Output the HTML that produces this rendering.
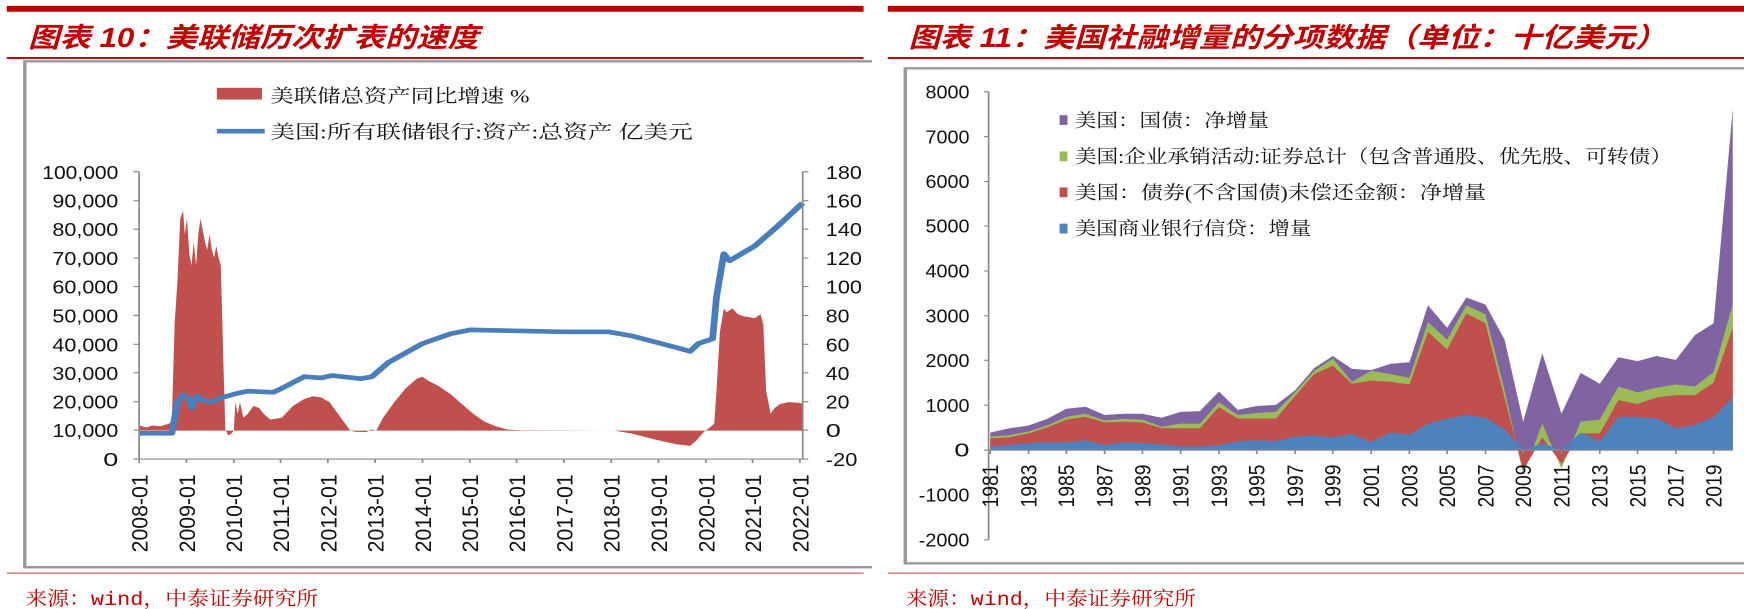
<!DOCTYPE html>
<html><head><meta charset="utf-8"><style>
html,body{margin:0;padding:0;background:#fff;width:1744px;height:609px;overflow:hidden}
svg{display:block}
text{font-family:"Liberation Sans","Noto Sans CJK SC",sans-serif}
.t{font-family:"Liberation Sans","Noto Sans CJK SC",sans-serif;font-weight:bold;font-style:italic;fill:#c00000;font-size:70px}
.src{font-family:"Liberation Mono","Noto Serif CJK SC",serif;fill:#c00000;font-size:50px}
.lg{font-family:"Liberation Serif","Noto Serif CJK SC",serif;font-size:48px;fill:#111}
.n{font-size:48px;fill:#111}
.xl{font-size:40px;fill:#111}
</style></head><body>
<svg width="1744" height="609" viewBox="0 0 3096 1560" preserveAspectRatio="none">
<rect width="3096" height="1560" fill="#fff"/>
<!-- LEFT PANEL -->
<rect x="12" y="15" width="1521" height="15" fill="#c00000"/>
<text class="t" x="50" y="120" textLength="800" lengthAdjust="spacingAndGlyphs">图表 10：美联储历次扩表的速度</text>
<rect x="12" y="146" width="1521" height="5" fill="#c00000"/>
<path d="M1548,157 H44 V1453 H1548" fill="none" stroke="#999" stroke-width="6"/>
<rect x="12" y="1467" width="1521" height="2" fill="#c00000"/>
<text class="src" x="45" y="1550" textLength="520" lengthAdjust="spacingAndGlyphs">来源：wind，中泰证券研究所</text>

<rect x="385" y="225" width="80" height="30" fill="#c0504d"/>
<text class="lg" x="480" y="262" textLength="460" lengthAdjust="spacingAndGlyphs">美联储总资产同比增速 %</text>
<line x1="385" y1="336" x2="470" y2="336" stroke="#4a7ebb" stroke-width="12"/>
<text class="lg" x="480" y="355" textLength="750" lengthAdjust="spacingAndGlyphs">美国:所有联储银行:资产:总资产 亿美元</text>

<polygon fill="#c0504d" points="247,1103 247,1090 260,1095 270,1090 285,1092 300,1085 305,1080 310,830 315,720 320,560 325,540 328,600 332,560 336,650 340,680 344,620 348,680 352,600 356,560 360,590 364,620 368,640 372,600 376,640 380,660 384,630 388,660 392,680 396,900 400,1100 405,1115 410,1112 415,1103 418,1030 422,1060 426,1030 432,1070 440,1060 450,1040 460,1045 468,1060 480,1075 500,1070 520,1040 540,1022 555,1015 570,1018 585,1030 600,1060 615,1090 622,1103 630,1106 650,1107 660,1100 668,1103 680,1070 700,1030 720,995 740,970 750,965 760,975 780,990 800,1010 820,1035 840,1060 860,1080 880,1092 900,1100 920,1102 1090,1103 1120,1110 1160,1125 1200,1138 1225,1142 1235,1130 1250,1106 1260,1095 1268,1085 1272,1000 1278,850 1285,790 1290,800 1300,790 1310,805 1320,810 1340,815 1350,805 1355,830 1360,1000 1368,1060 1375,1045 1385,1035 1400,1030 1420,1032 1425,1035 1425,1103"/>
<polyline fill="none" stroke="#4a7ebb" stroke-width="12" stroke-linejoin="round" points="247,1110 305,1110 315,1030 325,1012 335,1020 340,1045 350,1015 360,1025 375,1030 395,1018 420,1008 440,1002 485,1005 500,995 540,965 570,968 590,962 640,970 660,965 690,928 750,880 800,855 835,845 1000,850 1080,850 1120,860 1200,890 1225,900 1240,880 1265,868 1272,760 1285,650 1295,668 1340,630 1380,580 1425,520"/>

<g stroke="#888" stroke-width="3" fill="none">
<path d="M247,440 V1176 H1425 V440"/>
<path d="M237,440H247M237,514H247M237,587H247M237,661H247M237,734H247M237,808H247M237,882H247M237,955H247M237,1029H247M237,1102H247M237,1176H247"/>
<path d="M1425,440H1435M1425,514H1435M1425,587H1435M1425,661H1435M1425,734H1435M1425,808H1435M1425,882H1435M1425,955H1435M1425,1029H1435M1425,1102H1435M1425,1176H1435"/>
<path d="M247,1176v10M331,1176v10M415,1176v10M498,1176v10M582,1176v10M666,1176v10M750,1176v10M834,1176v10M917,1176v10M1001,1176v10M1085,1176v10M1169,1176v10M1253,1176v10M1336,1176v10M1420,1176v10"/>
</g>
<g class="n" text-anchor="end">
<text x="210" y="458" textLength="135" lengthAdjust="spacingAndGlyphs">100,000</text>
<text x="210" y="532" textLength="117" lengthAdjust="spacingAndGlyphs">90,000</text>
<text x="210" y="605" textLength="117" lengthAdjust="spacingAndGlyphs">80,000</text>
<text x="210" y="679" textLength="117" lengthAdjust="spacingAndGlyphs">70,000</text>
<text x="210" y="752" textLength="117" lengthAdjust="spacingAndGlyphs">60,000</text>
<text x="210" y="826" textLength="117" lengthAdjust="spacingAndGlyphs">50,000</text>
<text x="210" y="900" textLength="117" lengthAdjust="spacingAndGlyphs">40,000</text>
<text x="210" y="973" textLength="117" lengthAdjust="spacingAndGlyphs">30,000</text>
<text x="210" y="1047" textLength="117" lengthAdjust="spacingAndGlyphs">20,000</text>
<text x="210" y="1120" textLength="117" lengthAdjust="spacingAndGlyphs">10,000</text>
<text x="210" y="1194">0</text>
</g>
<g class="n">
<text x="1466" y="458" textLength="64" lengthAdjust="spacingAndGlyphs">180</text>
<text x="1466" y="532" textLength="64" lengthAdjust="spacingAndGlyphs">160</text>
<text x="1466" y="605" textLength="64" lengthAdjust="spacingAndGlyphs">140</text>
<text x="1466" y="679" textLength="64" lengthAdjust="spacingAndGlyphs">120</text>
<text x="1466" y="752" textLength="64" lengthAdjust="spacingAndGlyphs">100</text>
<text x="1466" y="826" textLength="42" lengthAdjust="spacingAndGlyphs">80</text>
<text x="1466" y="900" textLength="42" lengthAdjust="spacingAndGlyphs">60</text>
<text x="1466" y="973" textLength="42" lengthAdjust="spacingAndGlyphs">40</text>
<text x="1466" y="1047" textLength="42" lengthAdjust="spacingAndGlyphs">20</text>
<text x="1466" y="1120">0</text>
<text x="1466" y="1194" textLength="56" lengthAdjust="spacingAndGlyphs">-20</text>
</g>
<g class="xl" text-anchor="end">
<text transform="translate(262,1215) rotate(-90)" textLength="200" lengthAdjust="spacingAndGlyphs">2008-01</text>
<text transform="translate(346,1215) rotate(-90)" textLength="200" lengthAdjust="spacingAndGlyphs">2009-01</text>
<text transform="translate(430,1215) rotate(-90)" textLength="200" lengthAdjust="spacingAndGlyphs">2010-01</text>
<text transform="translate(513,1215) rotate(-90)" textLength="200" lengthAdjust="spacingAndGlyphs">2011-01</text>
<text transform="translate(597,1215) rotate(-90)" textLength="200" lengthAdjust="spacingAndGlyphs">2012-01</text>
<text transform="translate(681,1215) rotate(-90)" textLength="200" lengthAdjust="spacingAndGlyphs">2013-01</text>
<text transform="translate(765,1215) rotate(-90)" textLength="200" lengthAdjust="spacingAndGlyphs">2014-01</text>
<text transform="translate(849,1215) rotate(-90)" textLength="200" lengthAdjust="spacingAndGlyphs">2015-01</text>
<text transform="translate(932,1215) rotate(-90)" textLength="200" lengthAdjust="spacingAndGlyphs">2016-01</text>
<text transform="translate(1016,1215) rotate(-90)" textLength="200" lengthAdjust="spacingAndGlyphs">2017-01</text>
<text transform="translate(1100,1215) rotate(-90)" textLength="200" lengthAdjust="spacingAndGlyphs">2018-01</text>
<text transform="translate(1184,1215) rotate(-90)" textLength="200" lengthAdjust="spacingAndGlyphs">2019-01</text>
<text transform="translate(1268,1215) rotate(-90)" textLength="200" lengthAdjust="spacingAndGlyphs">2020-01</text>
<text transform="translate(1351,1215) rotate(-90)" textLength="200" lengthAdjust="spacingAndGlyphs">2021-01</text>
<text transform="translate(1435,1215) rotate(-90)" textLength="200" lengthAdjust="spacingAndGlyphs">2022-01</text>
</g>

<!-- RIGHT PANEL -->
<g transform="translate(1548,0)">
<rect x="28" y="15" width="1520" height="15" fill="#c00000"/>
<text class="t" x="65" y="120" textLength="1345" lengthAdjust="spacingAndGlyphs">图表 11：美国社融增量的分项数据（单位：十亿美元）</text>
<rect x="28" y="146" width="1520" height="5" fill="#c00000"/>
<path d="M1548,175 H59 V1443 H1548" fill="none" stroke="#999" stroke-width="6"/>
<rect x="28" y="1467" width="1520" height="2" fill="#c00000"/>
<text class="src" x="60" y="1550" textLength="515" lengthAdjust="spacingAndGlyphs">来源：wind，中泰证券研究所</text>

<polygon fill="#8064a2" points="210,1153 210,1108 244,1097 278,1090 311,1073 345,1047 379,1042 413,1063 447,1060 480,1060 514,1070 548,1055 582,1053 616,1003 649,1050 683,1040 717,1037 751,1000 785,943 818,912 852,945 886,948 920,932 954,928 987,782 1021,840 1055,762 1089,780 1123,870 1156,1080 1190,905 1224,1060 1258,955 1292,983 1325,915 1359,925 1393,912 1427,922 1461,858 1494,828 1528,280 1528,1153"/>
<polygon fill="#9bbb59" points="210,1153 210,1118 244,1115 278,1105 311,1090 345,1068 379,1060 413,1077 447,1073 480,1075 514,1093 548,1085 582,1085 616,1030 649,1063 683,1058 717,1055 751,1005 785,950 818,918 852,978 886,950 920,958 954,968 987,825 1021,870 1055,782 1089,805 1123,1000 1156,1215 1190,1085 1224,1200 1258,1080 1292,1075 1325,990 1359,1005 1393,993 1427,985 1461,990 1494,953 1528,780 1528,1153"/>
<polygon fill="#c0504d" points="210,1153 210,1123 244,1120 278,1110 311,1095 345,1075 379,1068 413,1082 447,1080 480,1082 514,1097 548,1097 582,1097 616,1043 649,1072 683,1072 717,1072 751,1015 785,958 818,937 852,983 886,975 920,978 954,985 987,850 1021,895 1055,803 1089,828 1123,1020 1156,1205 1190,1120 1224,1188 1258,1110 1292,1110 1325,1025 1359,1035 1393,1018 1427,1012 1461,1012 1494,980 1528,840 1528,1153"/>
<polygon fill="#4f81bd" points="210,1153 210,1143 244,1140 278,1135 311,1133 345,1133 379,1128 413,1140 447,1133 480,1135 514,1138 548,1143 582,1143 616,1140 649,1130 683,1128 717,1130 751,1118 785,1116 818,1120 852,1112 886,1132 920,1108 954,1113 987,1085 1021,1072 1055,1063 1089,1070 1123,1100 1156,1153 1190,1135 1224,1153 1258,1108 1292,1130 1325,1068 1359,1068 1393,1072 1427,1097 1461,1088 1494,1068 1528,1018 1528,1153"/>

<g stroke="#888" stroke-width="3" fill="none">
<path d="M207,235 V1383"/>
<path d="M207,1153 H1528"/>
<path d="M199,235H207M199,350H207M199,465H207M199,579H207M199,694H207M199,809H207M199,923H207M199,1038H207M199,1153H207M199,1268H207M199,1383H207"/>
<path d="M210,1153v10M278,1153v10M345,1153v10M413,1153v10M480,1153v10M548,1153v10M616,1153v10M683,1153v10M751,1153v10M818,1153v10M886,1153v10M954,1153v10M1021,1153v10M1089,1153v10M1156,1153v10M1224,1153v10M1292,1153v10M1359,1153v10M1427,1153v10M1494,1153v10"/>
</g>
<g class="n" text-anchor="end">
<text x="173" y="252" textLength="78" lengthAdjust="spacingAndGlyphs">8000</text>
<text x="173" y="367" textLength="78" lengthAdjust="spacingAndGlyphs">7000</text>
<text x="173" y="482" textLength="78" lengthAdjust="spacingAndGlyphs">6000</text>
<text x="173" y="596" textLength="78" lengthAdjust="spacingAndGlyphs">5000</text>
<text x="173" y="711" textLength="78" lengthAdjust="spacingAndGlyphs">4000</text>
<text x="173" y="826" textLength="78" lengthAdjust="spacingAndGlyphs">3000</text>
<text x="173" y="940" textLength="78" lengthAdjust="spacingAndGlyphs">2000</text>
<text x="173" y="1055" textLength="78" lengthAdjust="spacingAndGlyphs">1000</text>
<text x="173" y="1170">0</text>
<text x="173" y="1285" textLength="90" lengthAdjust="spacingAndGlyphs">-1000</text>
<text x="173" y="1400" textLength="90" lengthAdjust="spacingAndGlyphs">-2000</text>
</g>
<g class="xl" text-anchor="end">
<text transform="translate(224,1190) rotate(-90)" textLength="110" lengthAdjust="spacingAndGlyphs">1981</text>
<text transform="translate(292,1190) rotate(-90)" textLength="110" lengthAdjust="spacingAndGlyphs">1983</text>
<text transform="translate(359,1190) rotate(-90)" textLength="110" lengthAdjust="spacingAndGlyphs">1985</text>
<text transform="translate(427,1190) rotate(-90)" textLength="110" lengthAdjust="spacingAndGlyphs">1987</text>
<text transform="translate(494,1190) rotate(-90)" textLength="110" lengthAdjust="spacingAndGlyphs">1989</text>
<text transform="translate(562,1190) rotate(-90)" textLength="110" lengthAdjust="spacingAndGlyphs">1991</text>
<text transform="translate(630,1190) rotate(-90)" textLength="110" lengthAdjust="spacingAndGlyphs">1993</text>
<text transform="translate(697,1190) rotate(-90)" textLength="110" lengthAdjust="spacingAndGlyphs">1995</text>
<text transform="translate(765,1190) rotate(-90)" textLength="110" lengthAdjust="spacingAndGlyphs">1997</text>
<text transform="translate(832,1190) rotate(-90)" textLength="110" lengthAdjust="spacingAndGlyphs">1999</text>
<text transform="translate(900,1190) rotate(-90)" textLength="110" lengthAdjust="spacingAndGlyphs">2001</text>
<text transform="translate(968,1190) rotate(-90)" textLength="110" lengthAdjust="spacingAndGlyphs">2003</text>
<text transform="translate(1035,1190) rotate(-90)" textLength="110" lengthAdjust="spacingAndGlyphs">2005</text>
<text transform="translate(1103,1190) rotate(-90)" textLength="110" lengthAdjust="spacingAndGlyphs">2007</text>
<text transform="translate(1170,1190) rotate(-90)" textLength="110" lengthAdjust="spacingAndGlyphs">2009</text>
<text transform="translate(1238,1190) rotate(-90)" textLength="110" lengthAdjust="spacingAndGlyphs">2011</text>
<text transform="translate(1306,1190) rotate(-90)" textLength="110" lengthAdjust="spacingAndGlyphs">2013</text>
<text transform="translate(1373,1190) rotate(-90)" textLength="110" lengthAdjust="spacingAndGlyphs">2015</text>
<text transform="translate(1441,1190) rotate(-90)" textLength="110" lengthAdjust="spacingAndGlyphs">2017</text>
<text transform="translate(1508,1190) rotate(-90)" textLength="110" lengthAdjust="spacingAndGlyphs">2019</text>
</g>

<rect x="333" y="295" width="14" height="25" fill="#8064a2"/>
<text class="lg" x="360" y="325" textLength="345" lengthAdjust="spacingAndGlyphs">美国：国债：净增量</text>
<rect x="333" y="388" width="14" height="25" fill="#9bbb59"/>
<text class="lg" x="360" y="418" textLength="1060" lengthAdjust="spacingAndGlyphs">美国:企业承销活动:证券总计（包含普通股、优先股、可转债）</text>
<rect x="333" y="480" width="14" height="25" fill="#c0504d"/>
<text class="lg" x="360" y="510" textLength="730" lengthAdjust="spacingAndGlyphs">美国：债券(不含国债)未偿还金额：净增量</text>
<rect x="333" y="573" width="14" height="25" fill="#4f81bd"/>
<text class="lg" x="360" y="602" textLength="420" lengthAdjust="spacingAndGlyphs">美国商业银行信贷：增量</text>
</g>
</svg>
</body></html>
